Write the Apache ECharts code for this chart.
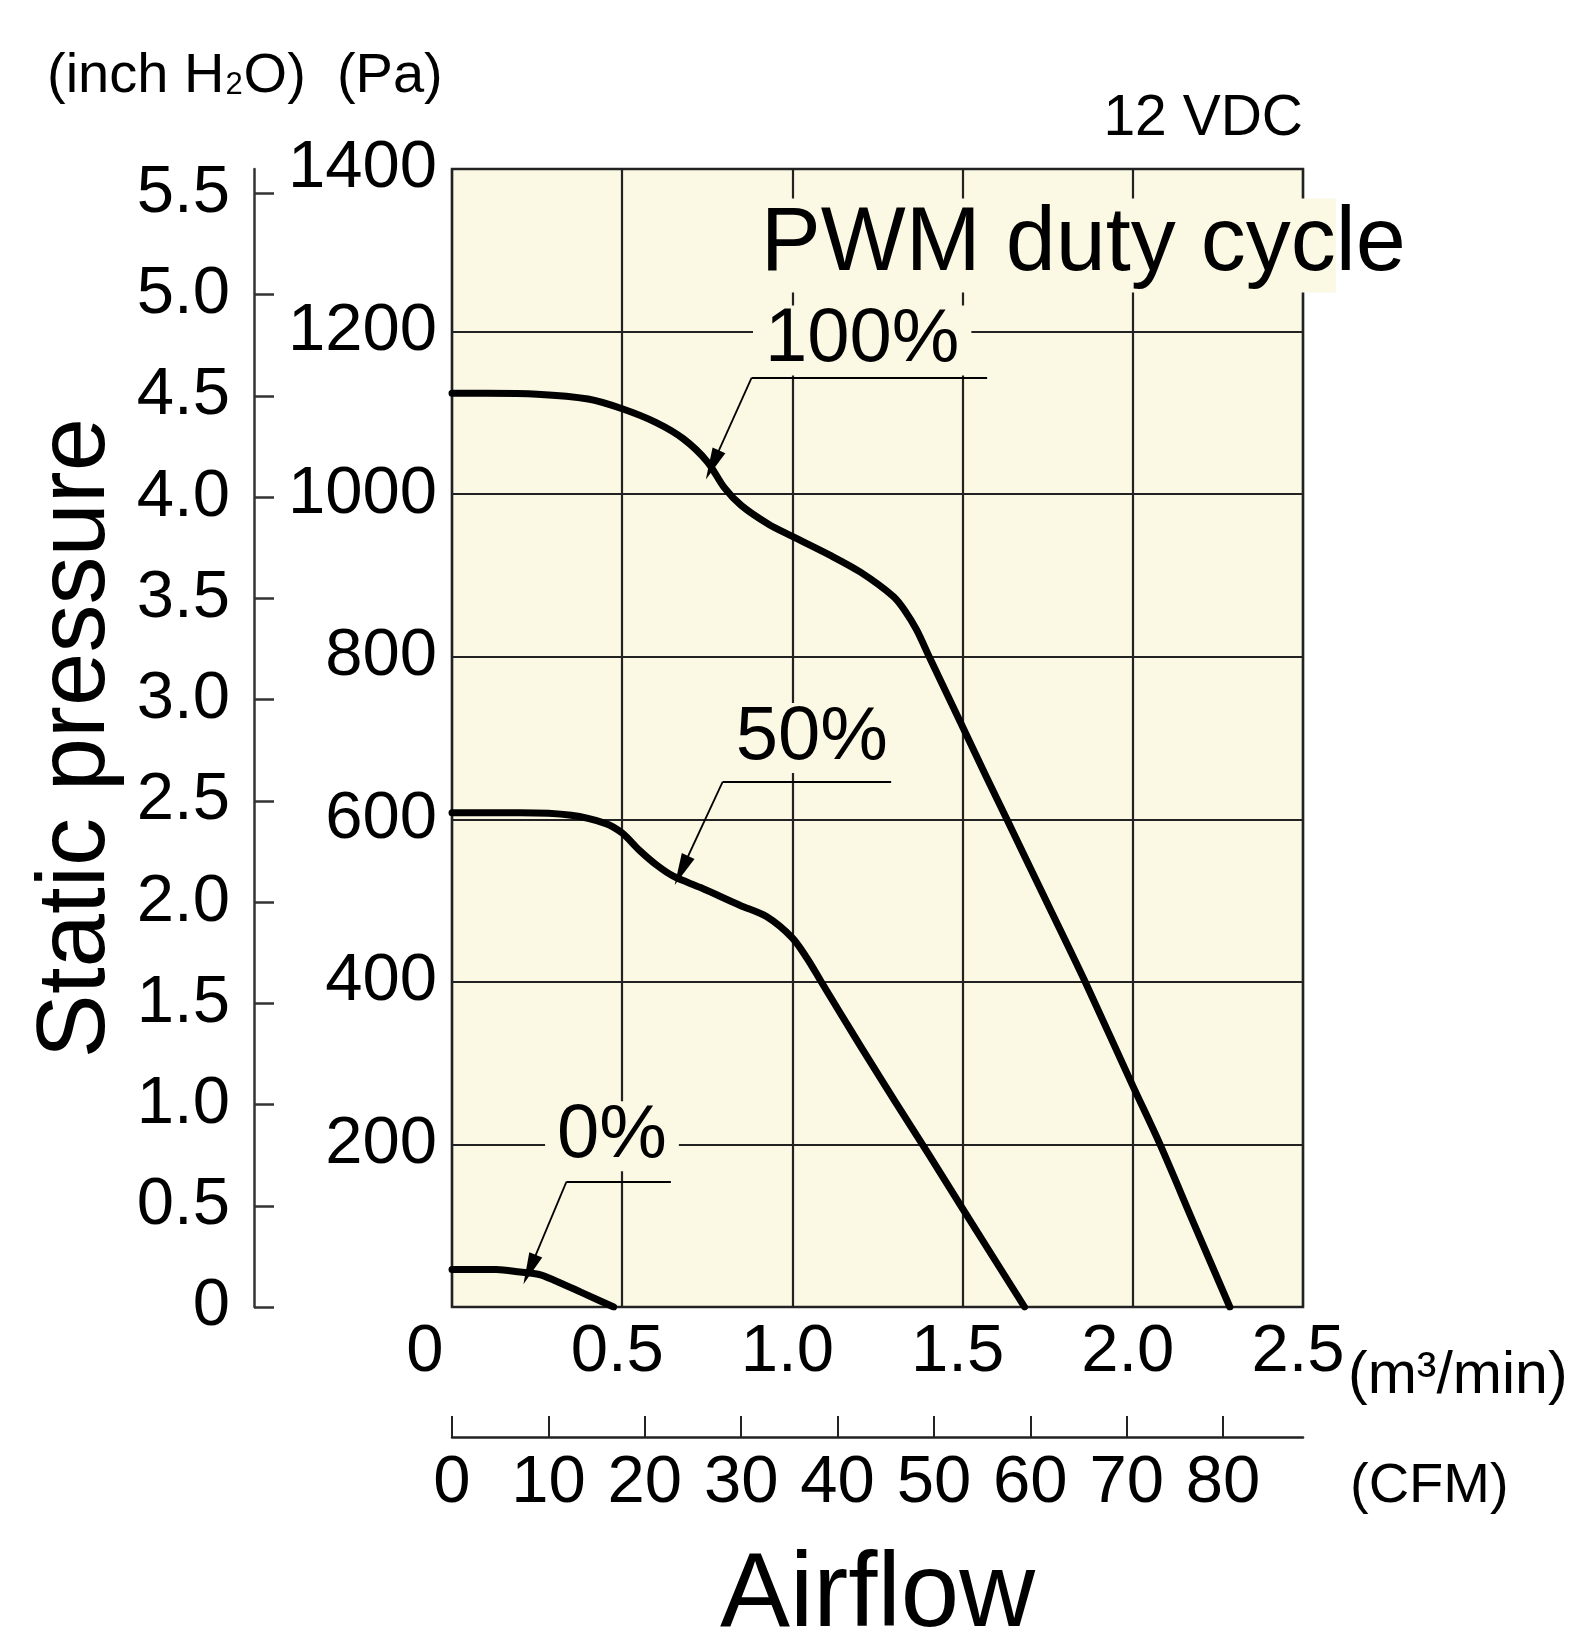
<!DOCTYPE html>
<html>
<head>
<meta charset="utf-8">
<title>Static pressure vs airflow</title>
<script src="https://cdn.jsdelivr.net/npm/echarts@6/dist/echarts.min.js"></script>
<style>
  html, body { margin: 0; padding: 0; background: #fff; }
  #chart { width: 1571px; height: 1635px; }
</style>
</head>
<body>
<div id="chart"></div>
<script>
// curves: airflow in m3/min, static pressure in Pa
var flow100 = [0, 0.1, 0.25, 0.4, 0.5, 0.6, 0.68, 0.75, 0.8, 0.85, 0.93, 1.0, 1.11, 1.2, 1.297, 1.33, 1.365, 1.404, 1.453, 1.502, 1.571, 1.63, 1.745, 1.86, 2.0, 2.08, 2.18, 2.285];
var pa100   = [1124, 1124, 1123, 1117, 1105, 1088, 1068, 1040, 1008, 986, 963, 948, 925, 904, 874, 857, 833, 798, 755, 712, 651, 600, 500, 400, 272, 200, 102, 0];

var flow50 = [0, 0.2, 0.35, 0.45, 0.5, 0.55, 0.6, 0.65, 0.73, 0.847, 0.925, 1.0, 1.043, 1.082, 1.14, 1.2, 1.3, 1.4, 1.5, 1.682];
var pa50   = [608, 608, 605, 595, 583, 562, 544, 530, 516, 494, 480, 454, 429, 402, 362, 321, 254, 188, 121, 0];

var flow0 = [0, 0.13, 0.2, 0.256, 0.3, 0.38, 0.475];
var pa0   = [46, 46, 43, 40, 33, 18, 0];

// tick values of the secondary scales
var inchTicks = [0, 0.5, 1, 1.5, 2, 2.5, 3, 3.5, 4, 4.5, 5, 5.5];
var cfmTicks = [0, 10, 20, 30, 40, 50, 60, 70, 80];

// callouts: label, leader line and arrow tip, in chart units
var calloutText = ['100%', '50%', '0%'];
var calloutAt = [[1.205, 1189], [1.057, 700], [0.47, 210]];
var leaderY = [1143, 646, 154];
var leaderX = [[0.88, 1.572], [0.795, 1.29], [0.336, 0.643]];
var arrowTip = [[0.765, 1036], [0.674, 537], [0.228, 46]];

var PA_PER_INCH = 249.089;
var CFM_PER_M3 = 35.3147;

var CREAM = '#fbf8e4';
var INK = '#222';
var NUM = "'Liberation Sans Narrow', 'Liberation Sans', Arial, sans-serif";
var SANS = "'Liberation Sans', Arial, Helvetica, sans-serif";
var NUM_SIZE = 67;

function zip(xs, ys) {
  var out = [];
  for (var i = 0; i < xs.length; i++) out.push([xs[i], ys[i]]);
  return out;
}

function curve(name, xs, ys, k) {
  return {
    name: name,
    type: 'line',
    data: zip(xs, ys),
    showSymbol: false,
    smooth: 0.3,
    lineStyle: { color: '#000', width: 7, cap: 'round', join: 'round' },
    z: 3,
    markLine: {
      silent: true,
      animation: false,
      symbol: ['none', 'none'],
      lineStyle: { color: '#000', width: 1.8, type: 'solid' },
      label: { show: false },
      data: [
        [{ coord: [leaderX[k][0], leaderY[k]] }, { coord: [leaderX[k][1], leaderY[k]] }],
        [{ coord: arrowTip[k], symbol: 'triangle', symbolSize: [14, 32] },
         { coord: [leaderX[k][0], leaderY[k]], symbol: 'none' }]
      ]
    },
    markPoint: {
      silent: true,
      animation: false,
      symbol: 'rect',
      symbolSize: 1,
      itemStyle: { color: 'rgba(0,0,0,0)' },
      label: {
        show: true,
        position: 'inside',
        formatter: '{b}',
        fontFamily: SANS,
        fontSize: 76,
        color: '#000',
        backgroundColor: CREAM,
        padding: [0, 12],
        lineHeight: 70
      },
      data: [{ name: calloutText[k], coord: calloutAt[k] }]
    }
  };
}

var s100 = curve('100%', flow100, pa100, 0);
s100.markPoint.data.push({
  name: 'PWM duty cycle',
  coord: [1.84, 1306],
  label: {
    backgroundColor: 'rgba(0,0,0,0)',
    padding: 0,
    formatter: '{a|PWM duty cyc}{b|le}',
    rich: {
      a: { fontFamily: SANS, fontSize: 90, color: '#000', backgroundColor: CREAM, padding: [2, 0, 2, 10], lineHeight: 90 },
      b: { fontFamily: SANS, fontSize: 90, color: '#000', lineHeight: 90 }
    }
  }
});

var chart = echarts.init(document.getElementById('chart'), null, { renderer: 'canvas' });

chart.setOption({
  animation: false,
  backgroundColor: '#fff',
  title: [
    {
      text: '{a|(inch H}{s|2}{a|O)  (Pa)}',
      left: 47, top: 49, padding: 0,
      textStyle: {
        fontWeight: 'normal',
        rich: {
          a: { fontFamily: SANS, fontSize: 56, fontWeight: 'normal', color: '#000', lineHeight: 56 },
          s: { fontFamily: SANS, fontSize: 31, fontWeight: 'normal', color: '#000', lineHeight: 31, verticalAlign: 'bottom', padding: [0, 1, 4, 1] }
        }
      }
    },
    {
      text: '12 VDC', right: 268, top: 91, padding: 0,
      textStyle: { fontFamily: SANS, fontSize: 57, fontWeight: 'normal', color: '#000' }
    },
    {
      text: '(m³/min)', left: 1348, top: 1347, padding: 0,
      textStyle: { fontFamily: SANS, fontSize: 59, fontWeight: 'normal', color: '#000' }
    },
    {
      text: '(CFM)', left: 1350, top: 1459, padding: 0,
      textStyle: { fontFamily: SANS, fontSize: 56, fontWeight: 'normal', color: '#000' }
    }
  ],
  grid: {
    left: 452, right: 268, top: 169, bottom: 328,
    show: true,
    backgroundColor: CREAM,
    borderColor: '#2a2a2a',
    borderWidth: 2.5,
    containLabel: false,
    outerBoundsMode: 'none'
  },
  xAxis: [
    {
      type: 'value', min: 0, max: 2.5, interval: 0.5, position: 'bottom',
      axisLine: { show: false }, axisTick: { show: false },
      splitLine: { show: true, lineStyle: { color: INK, width: 2.2 } },
      axisLabel: {
        margin: 12,
        color: '#000',
        formatter: function (v) { return v === 0 ? '{o|0}' : '{n|' + v.toFixed(1) + '}'; },
        rich: {
          o: { fontFamily: NUM, fontSize: NUM_SIZE, color: '#000', padding: [0, 54, 0, 0] },
          n: { fontFamily: NUM, fontSize: NUM_SIZE, color: '#000', padding: [0, 10, 0, 0] }
        }
      }
    },
    {
      type: 'value', min: 0, max: 2.5 * CFM_PER_M3, position: 'bottom', offset: 130,
      axisLine: { show: true, onZero: false, lineStyle: { color: INK, width: 2.5 } },
      axisTick: { show: true, inside: true, length: 21, customValues: cfmTicks, lineStyle: { color: INK, width: 2 } },
      axisLabel: { customValues: cfmTicks, margin: 13, fontFamily: NUM, fontSize: NUM_SIZE, color: '#000' },
      splitLine: { show: false },
      name: 'Airflow', nameLocation: 'middle', nameGap: 108, nameMoveOverlap: false,
      nameTextStyle: { fontFamily: SANS, fontSize: 105, color: '#000' }
    }
  ],
  yAxis: [
    {
      type: 'value', min: 0, max: 1400, interval: 200, position: 'left',
      axisLine: { show: false }, axisTick: { show: false },
      splitLine: { show: true, lineStyle: { color: INK, width: 2.2 } },
      axisLabel: {
        margin: 15, fontFamily: NUM, fontSize: NUM_SIZE, color: '#000',
        formatter: function (v) { return v === 0 ? '' : String(v); }
      }
    },
    {
      type: 'value', min: 0, max: 1400 / PA_PER_INCH, position: 'left', offset: 198,
      axisLine: { show: true, onZero: false, lineStyle: { color: '#333', width: 2.5 } },
      axisTick: { show: true, inside: true, length: 20, customValues: inchTicks, lineStyle: { color: '#333', width: 2.5 } },
      axisLabel: {
        customValues: inchTicks, margin: 24, fontFamily: NUM, fontSize: NUM_SIZE, color: '#000',
        formatter: function (v) { return v === 0 ? '0' : v.toFixed(1); }
      },
      splitLine: { show: false },
      name: 'Static pressure', nameLocation: 'middle', nameGap: 128, nameRotate: 90, nameMoveOverlap: false,
      nameTextStyle: { fontFamily: SANS, fontSize: 96, color: '#000' }
    }
  ],
  series: [
    s100,
    curve('50%', flow50, pa50, 1),
    curve('0%', flow0, pa0, 2)
  ]
});
</script>
</body>
</html>
